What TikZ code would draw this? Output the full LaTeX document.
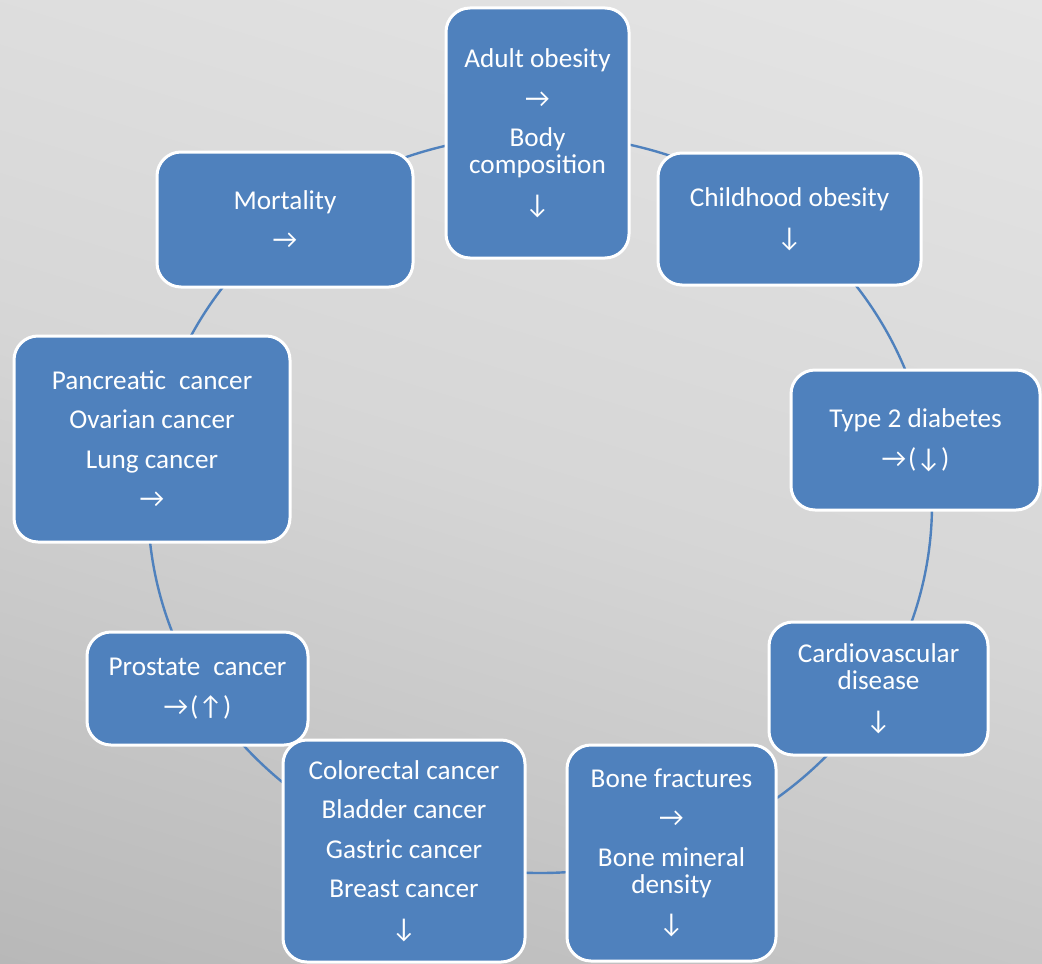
\documentclass[tikz,border=0pt]{standalone}
\usepackage{fontspec}
\setmainfont{Carlito}
\definecolor{boxblue}{HTML}{4F81BD}
\definecolor{bgdark}{RGB}{154,154,154}
\definecolor{bgmid}{RGB}{214,214,214}
\definecolor{bglight}{RGB}{244,244,244}
\pgfdeclareverticalshading{bgshade}{100bp}{color(0bp)=(bgdark); color(25bp)=(bgdark); color(50bp)=(bgmid); color(75bp)=(bglight); color(100bp)=(bglight)}
\newcommand{\rarr}{→}
\newcommand{\darr}{↓}
\newcommand{\uarr}{↑}
\begin{document}
\begin{tikzpicture}[x=0.5pt,y=-0.5pt,
  box/.style={draw=white, line width=1.5pt, fill=boxblue, rounded corners=12pt,
    text=white, align=center, inner sep=0pt,
    font=\fontsize{13.6}{13.5}\selectfont},
  ring/.style={draw=boxblue, line width=1.2pt}]
\useasboundingbox (0,0) rectangle (1042,963);
\begin{scope}
  \clip (0,0) rectangle (1042,963);
  \begin{scope}[transform canvas={rotate around={-17:(521,481.5)}}]
    \shade[shading=bgshade] (-379,-746.5) rectangle (1421,1709.5);
  \end{scope}
\end{scope}
\draw[ring] (540,504) ellipse [x radius=392, y radius=369];
\node[box, minimum width=91.5pt, minimum height=125pt] (adult) at (537.5,133)
  {Adult obesity\\[6.25pt] \rarr\\[6.25pt] Body\\composition\\[6.25pt] \darr};
\node[box, minimum width=131.5pt, minimum height=66pt] (child) at (789.5,219)
  {Childhood obesity\\[6.25pt] \darr};
\node[box, minimum width=124.5pt, minimum height=70pt] (type2) at (915.5,440)
  {Type 2 diabetes\\[6.25pt] \rarr\kern1pt(\darr)};
\node[box, minimum width=109.5pt, minimum height=66.5pt] (cardio) at (878.5,688.5)
  {Cardiovascular\\disease\\[6.25pt] \darr};
\node[box, minimum width=104.5pt, minimum height=108pt] (bone) at (671.5,853)
  {Bone fractures\\[6.25pt] \rarr\\[6.25pt] Bone mineral\\density\\[6.25pt] \darr};
\node[box, minimum width=121pt, minimum height=111pt] (colo) at (404,851)
  {Colorectal cancer\\[6.25pt] Bladder cancer\\[6.25pt] Gastric cancer\\[6.25pt] Breast cancer\\[6.25pt] \darr};
\node[box, minimum width=110.5pt, minimum height=56.5pt] (prost) at (197.5,688.5)
  {Prostate\hspace{0.25em} cancer\\[6.25pt] \rarr\kern1pt(\uarr)};
\node[box, minimum width=138pt, minimum height=103pt] (panc) at (152,439)
  {Pancreatic\hspace{0.25em} cancer\\[6.25pt] Ovarian cancer\\[6.25pt] Lung cancer\\[6.25pt] \rarr};
\node[box, minimum width=128pt, minimum height=67.5pt] (mort) at (285,219.5)
  {Mortality\\[6.25pt] \rarr};
\end{tikzpicture}
\end{document}
